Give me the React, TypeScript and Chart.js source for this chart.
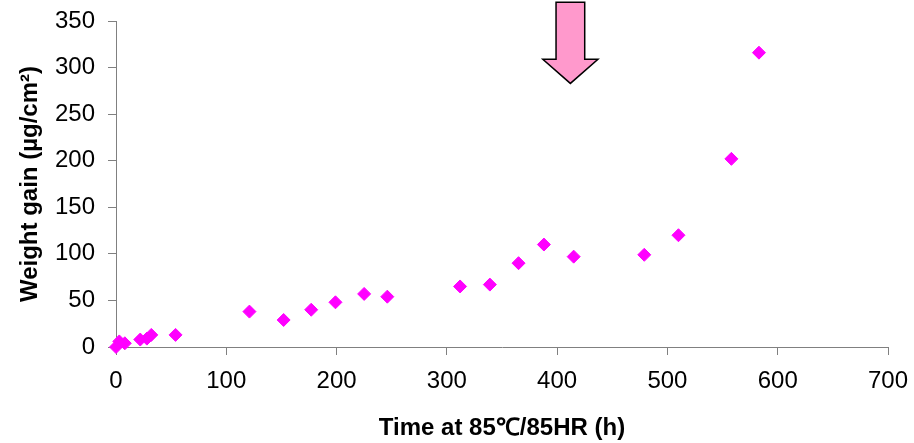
import React, { useEffect, useRef } from "react";
import { Chart, registerables } from "chart.js";

Chart.register(...registerables);

const timeHours = [0, 3, 8, 22, 28, 32, 54, 121, 152, 177, 199, 225, 246, 312, 339, 365, 388, 415, 479, 510, 558, 583];
const weightGain = [0, 6, 4, 8, 9, 13, 13, 38, 29, 40, 48, 57, 54, 65, 67, 90, 110, 97, 99, 120, 202, 316];
const xTicks = [0, 100, 200, 300, 400, 500, 600, 700];
const yTicks = [0, 50, 100, 150, 200, 250, 300, 350];

// Arrow annotation in data units
const arrowX = 412;
const arrowTipY = 283;
const arrowHeadBaseY = 309;
const arrowTopY = 370;
const arrowShaftHalf = 13;
const arrowHeadHalf = 25;

const FONT = "'Liberation Sans', Arial, Helvetica, sans-serif";

const arrowPlugin = {
  id: "arrowAnnot",
  afterDatasetsDraw(chart: any) {
    const { ctx, scales } = chart;
    const xs = scales.x;
    const ys = scales.y;
    const px = (v: number) => xs.getPixelForValue(v);
    const py = (v: number) => ys.getPixelForValue(v);
    ctx.save();
    ctx.beginPath();
    ctx.moveTo(px(arrowX - arrowShaftHalf), py(arrowTopY));
    ctx.lineTo(px(arrowX + arrowShaftHalf), py(arrowTopY));
    ctx.lineTo(px(arrowX + arrowShaftHalf), py(arrowHeadBaseY));
    ctx.lineTo(px(arrowX + arrowHeadHalf), py(arrowHeadBaseY));
    ctx.lineTo(px(arrowX), py(arrowTipY));
    ctx.lineTo(px(arrowX - arrowHeadHalf), py(arrowHeadBaseY));
    ctx.lineTo(px(arrowX - arrowShaftHalf), py(arrowHeadBaseY));
    ctx.closePath();
    ctx.fillStyle = "#ff99cc";
    ctx.fill();
    ctx.lineWidth = 1.5;
    ctx.strokeStyle = "#000000";
    ctx.stroke();
    ctx.restore();
  },
};

const zeroPad = (s: any) => {
  s.paddingLeft = 0;
  s.paddingRight = 0;
  s.paddingTop = 0;
  s.paddingBottom = 0;
};

export default function App() {
  const ref = useRef<HTMLCanvasElement | null>(null);
  useEffect(() => {
    if (!ref.current) return;
    const chart = new Chart(ref.current, {
      type: "scatter",
      data: {
        datasets: [
          {
            data: timeHours.map((t, i) => ({ x: t, y: weightGain[i] })),
            pointStyle: "rectRot",
            pointRadius: 6.5,
            backgroundColor: "#ff00ff",
            borderColor: "#ff00ff",
            borderWidth: 1,
            clip: false,
          },
        ],
      },
      options: {
        animation: false,
        responsive: true,
        maintainAspectRatio: false,
        layout: { padding: { top: 21, right: 26, left: 0, bottom: 0 } },
        plugins: { legend: { display: false }, tooltip: { enabled: false } },
        scales: {
          x: {
            type: "linear",
            min: 0,
            max: 700,
            afterBuildTicks: (s: any) => {
              s.ticks = xTicks.map((v) => ({ value: v }));
            },
            afterFit: (s: any) => {
              s.height = 96;
              zeroPad(s);
            },
            grid: { drawOnChartArea: false, drawTicks: true, tickLength: 8, color: "#808080" },
            border: { color: "#808080", width: 1 },
            ticks: { color: "#000", font: { family: FONT, size: 24 }, padding: 12, maxRotation: 0 },
            title: {
              display: true,
              text: "Time at 85℃/85HR (h)",
              color: "#000",
              font: { family: FONT, size: 24, weight: "bold" },
              padding: { top: 0, bottom: 0 },
            },
          },
          y: {
            type: "linear",
            min: 0,
            max: 350,
            afterBuildTicks: (s: any) => {
              s.ticks = yTicks.map((v) => ({ value: v }));
            },
            afterFit: (s: any) => {
              s.width = 116;
              zeroPad(s);
            },
            grid: { drawOnChartArea: false, drawTicks: true, tickLength: 8, color: "#808080" },
            border: { color: "#808080", width: 1 },
            ticks: { color: "#000", font: { family: FONT, size: 24 }, padding: 13 },
            title: {
              display: true,
              text: "Weight gain (µg/cm²)",
              color: "#000",
              font: { family: FONT, size: 24, weight: "bold" },
              padding: { top: 16, bottom: 0 },
            },
          },
        },
      },
      plugins: [arrowPlugin],
    });
    return () => chart.destroy();
  }, []);
  return (
    <div style={{ position: "absolute", left: 0, top: 0, width: 914, height: 443 }}>
      <canvas ref={ref} />
    </div>
  );
}
